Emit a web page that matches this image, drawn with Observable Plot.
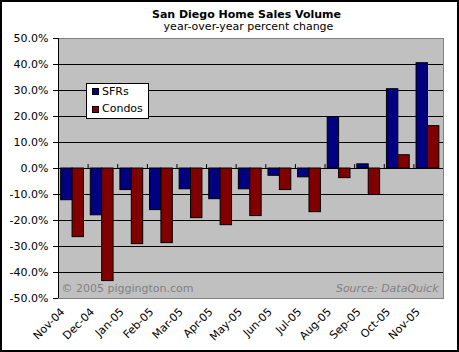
<!DOCTYPE html>
<html><head><meta charset="utf-8">
<script src="https://cdn.jsdelivr.net/npm/d3@7"></script>
<script src="https://cdn.jsdelivr.net/npm/@observablehq/plot@0.6"></script>
<style>
body{margin:0;background:#fff;}
#wrap{position:relative;width:459px;height:352px;overflow:hidden;font-family:"DejaVu Sans",Verdana,sans-serif;color:#000;background:#fff;}
#border{position:absolute;left:0;top:0;width:459px;height:352px;border:2px solid #000;box-sizing:border-box;pointer-events:none;}
.hdr{position:absolute;text-align:center;font-size:11px;line-height:11px;white-space:nowrap;}
#title{left:34px;width:425px;top:9px;font-weight:bold;}
#subtitle{left:38px;width:421px;top:20.5px;}
#chart{position:absolute;left:0;top:30px;}
#legend{position:absolute;left:86px;top:83px;width:63px;height:36px;background:#fff;border:1px solid #000;box-sizing:border-box;font-size:11px;}
#legend .sw{position:absolute;left:5px;width:7px;height:7px;border:1px solid #000;box-sizing:border-box;}
#legend .lb{position:absolute;left:15px;line-height:13px;white-space:nowrap;}
</style></head>
<body>
<div id="wrap">
  <div id="title" class="hdr">San Diego Home Sales Volume</div>
  <div id="subtitle" class="hdr">year-over-year percent change</div>
  <div id="chart"></div>
  <div id="legend"></div>
  <div id="border"></div>
</div>
<script>
const months = ["Nov-04","Dec-04","Jan-05","Feb-05","Mar-05","Apr-05","May-05","Jun-05","Jul-05","Aug-05","Sep-05","Oct-05","Nov-05"];
const seriesNames = ["SFRs", "Condos"];
const sfr    = [-12.2, -18.0, -8.3, -16.0, -8.0, -11.8, -8.0, -2.8, -3.4, 19.8, 1.6, 30.5, 40.5];
const condos = [-26.4, -43.3, -29.1, -28.7, -19.1, -21.8, -18.3, -8.3, -16.8, -3.7, -10.2, 5.1, 16.3];
const yTicks = [-50, -40, -30, -20, -10, 0, 10, 20, 30, 40, 50];
const seriesColors = ["#000080", "#800000"];

const table = [];
months.forEach((m, i) => {
  table.push({i, month: m, series: "SFRs", value: sfr[i]});
  table.push({i, month: m, series: "Condos", value: condos[i]});
});
// position of each series bar inside its month slot (fraction of slot)
const slot = {SFRs: [0.09, 0.475], Condos: [0.475, 0.86]};

const plot = Plot.plot({
  width: 459, height: 322,
  marginLeft: 58, marginRight: 16, marginTop: 8, marginBottom: 54,
  style: {fontFamily: '"DejaVu Sans", Verdana, sans-serif', fontSize: "11px", background: "transparent", overflow: "visible", color: "#000"},
  x: {domain: [0, months.length], axis: null, label: null},
  y: {domain: [-50, 50], axis: null, label: null},
  color: {domain: seriesNames, range: seriesColors},
  marks: [
    Plot.frame({fill: "#c0c0c0", stroke: null}),
    Plot.ruleY(yTicks.filter(t => Math.abs(t) < 50), {stroke: "#000", strokeWidth: 1}),
    Plot.rectY(table, {
      x1: d => d.i + slot[d.series][0],
      x2: d => d.i + slot[d.series][1],
      y1: 0, y2: "value",
      fill: "series", stroke: "#000", strokeWidth: 1
    }),
    Plot.ruleX(d3.range(1, months.length + 1), {y1: 0, y2: 1.5, stroke: "#000"}),
    Plot.frame({stroke: "#808080"}),
    Plot.ruleX([0], {stroke: "#000"}),
    Plot.axisY({ticks: yTicks, tickFormat: v => v.toFixed(1) + "%", tickSize: 5, tickPadding: 5, anchor: "left", label: null, stroke: "#000", fill: "#000"}),
    Plot.axisX({ticks: d3.range(months.length).map(i => i + 0.5), tickFormat: v => months[Math.floor(v)], tickSize: 0, tickRotate: -45, anchor: "bottom", tickPadding: 11.5, dx: -10.5, label: null, fill: "#000"}),
    Plot.text(["© 2005 piggington.com"], {frameAnchor: "bottom-left", textAnchor: "start", lineAnchor: "bottom", dx: 3, dy: -7, fill: "#808080"}),
    Plot.text(["Source: DataQuick"], {frameAnchor: "bottom-right", textAnchor: "end", lineAnchor: "bottom", dx: -5, dy: -7, fill: "#808080", fontStyle: "italic"})
  ]
});
document.getElementById("chart").appendChild(plot);

const legend = document.getElementById("legend");
seriesNames.forEach((name, k) => {
  const sw = document.createElement("div");
  sw.className = "sw";
  sw.style.top = (4 + k * 17.5) + "px";
  sw.style.background = seriesColors[k];
  legend.appendChild(sw);
  const lb = document.createElement("div");
  lb.className = "lb";
  lb.style.top = (1 + k * 16.5) + "px";
  lb.textContent = name;
  legend.appendChild(lb);
});
</script>
</body></html>
